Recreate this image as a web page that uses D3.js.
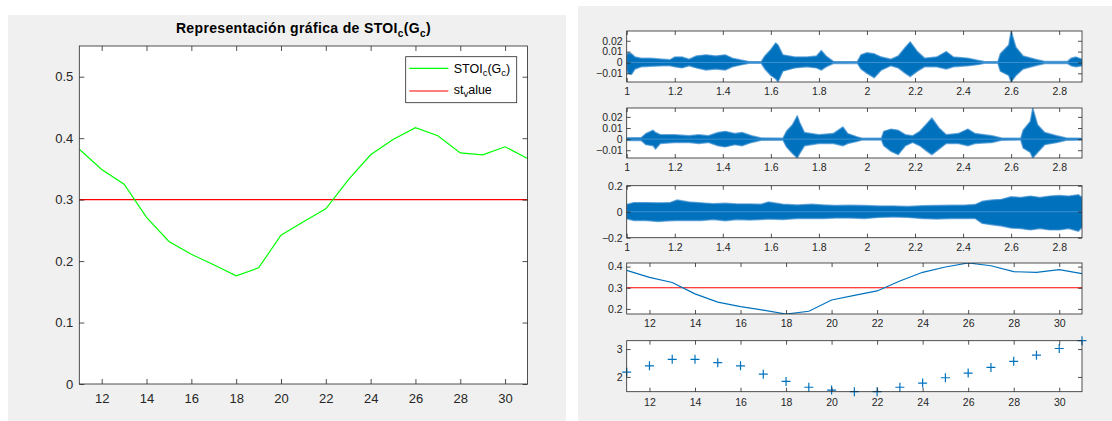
<!DOCTYPE html>
<html>
<head>
<meta charset="utf-8">
<script src="https://cdn.jsdelivr.net/npm/d3@7"></script>
<style>
body{margin:0;background:#fff;}
text{font-family:"Liberation Sans",Arial,Helvetica,sans-serif;}
</style>
</head>
<body>
<div id="chart-section"></div>
<script>

// ---- data ----
var gc = [11,12,13,14,15,16,17,18,19,20,21,22,23,24,25,26,27,28,29,30,31]
var stoi = [0.382,0.349,0.325,0.271,0.232,0.211,0.194,0.176,0.189,0.242,0.264,0.285,0.332,0.373,0.398,0.417,0.404,0.376,0.373,0.386,0.367]
var stValue = 0.3
var gain = [2.17,2.40,2.63,2.63,2.51,2.40,2.10,1.84,1.63,1.53,1.47,1.47,1.63,1.78,1.97,2.14,2.34,2.56,2.78,3.02,3.30]

var gcTicks = [12,14,16,18,20,22,24,26,28,30]
var stoiTicks = [0,0.1,0.2,0.3,0.4,0.5]
var timeTicks = [1,1.2,1.4,1.6,1.8,2,2.2,2.4,2.6,2.8]
var w12Ticks = [-0.01,0,0.01,0.02]
var w3Ticks = [-0.2,0,0.2]
var s4Ticks = [0.2,0.3,0.4]
var s5Ticks = [2,3]

// envelopes of the three waveforms (time, upper, lower)
var w1T  = [1.000,1.005,1.02,1.035,1.06,1.10,1.15,1.18,1.20,1.23,1.26,1.29,1.33,1.37,1.41,1.44,1.48,1.51,1.56,1.575,1.60,1.62,1.63,1.65,1.70,1.75,1.79,1.81,1.83,1.86,1.96,1.975,2.00,2.03,2.06,2.10,2.13,2.16,2.18,2.21,2.24,2.29,2.33,2.36,2.42,2.46,2.49,2.545,2.555,2.59,2.60,2.62,2.65,2.70,2.74,2.835,2.85,2.87,2.895]
var w1Hi = [0.006,0.009,0.008,0.005,0.004,0.004,0.003,0.0025,0.005,0.005,0.003,0.006,0.007,0.006,0.007,0.004,0.002,0.0008,0.0008,0.006,0.012,0.018,0.016,0.007,0.005,0.005,0.006,0.011,0.006,0.001,0.0008,0.007,0.009,0.008,0.005,0.003,0.006,0.014,0.019,0.010,0.004,0.005,0.010,0.005,0.004,0.002,0.0008,0.0008,0.008,0.016,0.029,0.014,0.006,0.003,0.001,0.001,0.004,0.005,0.003]
var w1Lo = [-0.006,-0.010,-0.011,-0.006,-0.004,-0.0035,-0.003,-0.003,-0.004,-0.005,-0.003,-0.005,-0.007,-0.006,-0.007,-0.004,-0.002,-0.0008,-0.0008,-0.006,-0.012,-0.015,-0.018,-0.008,-0.005,-0.004,-0.005,-0.007,-0.004,-0.001,-0.0008,-0.006,-0.010,-0.014,-0.007,-0.003,-0.005,-0.010,-0.013,-0.008,-0.004,-0.004,-0.006,-0.004,-0.003,-0.002,-0.0008,-0.0008,-0.008,-0.012,-0.018,-0.012,-0.006,-0.003,-0.001,-0.001,-0.003,-0.004,-0.003]

var w2T  = [1.000,1.06,1.08,1.11,1.12,1.14,1.20,1.26,1.30,1.34,1.38,1.41,1.45,1.48,1.52,1.56,1.65,1.665,1.69,1.71,1.72,1.74,1.80,1.86,1.90,1.92,1.96,1.98,2.06,2.07,2.10,2.13,2.16,2.19,2.22,2.25,2.27,2.30,2.33,2.38,2.42,2.45,2.52,2.56,2.64,2.65,2.68,2.69,2.71,2.74,2.79,2.83,2.895]
var w2Hi = [0.0012,0.0012,0.005,0.008,0.006,0.004,0.004,0.003,0.004,0.003,0.006,0.007,0.005,0.006,0.003,0.001,0.0008,0.007,0.013,0.021,0.015,0.006,0.004,0.005,0.011,0.005,0.002,0.0008,0.0008,0.007,0.009,0.008,0.004,0.003,0.007,0.014,0.019,0.010,0.004,0.005,0.009,0.005,0.003,0.001,0.0008,0.008,0.016,0.028,0.013,0.006,0.003,0.001,0.0008]
var w2Lo = [-0.0012,-0.0012,-0.005,-0.006,-0.009,-0.004,-0.003,-0.003,-0.004,-0.003,-0.006,-0.007,-0.005,-0.006,-0.003,-0.001,-0.0008,-0.007,-0.013,-0.017,-0.013,-0.006,-0.004,-0.004,-0.006,-0.004,-0.002,-0.0008,-0.0008,-0.006,-0.011,-0.014,-0.006,-0.003,-0.006,-0.011,-0.014,-0.009,-0.004,-0.004,-0.006,-0.004,-0.003,-0.001,-0.0008,-0.008,-0.012,-0.017,-0.012,-0.005,-0.003,-0.001,-0.0008]

var w3T  = [1.00,1.03,1.08,1.13,1.18,1.21,1.26,1.31,1.36,1.41,1.46,1.51,1.56,1.59,1.65,1.71,1.77,1.82,1.87,1.93,1.99,2.05,2.11,2.17,2.23,2.29,2.35,2.40,2.45,2.48,2.52,2.56,2.60,2.64,2.68,2.72,2.76,2.80,2.84,2.88,2.895]
var w3Hi = [0.055,0.07,0.07,0.068,0.07,0.09,0.075,0.068,0.062,0.065,0.06,0.06,0.058,0.075,0.058,0.052,0.058,0.052,0.048,0.05,0.048,0.044,0.044,0.04,0.046,0.048,0.05,0.05,0.055,0.08,0.09,0.095,0.115,0.11,0.12,0.11,0.12,0.125,0.12,0.13,0.11]
var w3Lo = [-0.055,-0.068,-0.068,-0.075,-0.07,-0.068,-0.068,-0.068,-0.06,-0.07,-0.06,-0.064,-0.06,-0.056,-0.06,-0.052,-0.052,-0.052,-0.048,-0.048,-0.052,-0.044,-0.04,-0.044,-0.052,-0.056,-0.052,-0.052,-0.052,-0.09,-0.1,-0.11,-0.125,-0.13,-0.14,-0.13,-0.14,-0.14,-0.13,-0.15,-0.12]

var blue = "#0072BD", axisCol = "#262626"

var svg = d3.select("#chart-section")
        .append("svg")
        .attr("width", 1112)
        .attr("height", 421)

// two figure windows
svg.append("rect").attr("x", 8).attr("y", 15).attr("width", 558).attr("height", 406).attr("fill", "#f0f0f0")
svg.append("rect").attr("x", 578).attr("y", 6).attr("width", 534).attr("height", 415).attr("fill", "#f0f0f0")

// matlab style box axes, ticks inside on all 4 sides
function matAxes(box, xs, ys, xt, yt, o, draw) {
  var g = svg.append("g").attr("transform", "translate(" + box.x + "," + box.y + ")")
  g.append("rect").attr("width", box.w).attr("height", box.h).attr("fill", "#fff")
  var id = "clip" + Math.round(box.x) + "_" + Math.round(box.y)
  g.append("clipPath").attr("id", id).append("rect").attr("width", box.w).attr("height", box.h)
  var data = g.append("g")
  if (o.clip) data.attr("clip-path", "url(#" + id + ")")
  draw(data)
  g.append("g").attr("transform", "translate(0," + box.h + ")")
    .call(d3.axisBottom(xs).tickValues(xt).tickSizeInner(-o.tick).tickSizeOuter(0).tickPadding(o.padX).tickFormat(d3.format("")))
  g.append("g")
    .call(d3.axisTop(xs).tickValues(xt).tickSizeInner(-o.tick).tickSizeOuter(0).tickFormat(""))
  g.append("g")
    .call(d3.axisLeft(ys).tickValues(yt).tickSizeInner(-o.tick).tickSizeOuter(0).tickPadding(o.padY).tickFormat(d3.format("")))
  g.append("g").attr("transform", "translate(" + box.w + ",0)")
    .call(d3.axisRight(ys).tickValues(yt).tickSizeInner(-o.tick).tickSizeOuter(0).tickFormat(""))
  g.selectAll(".domain").remove()
  g.selectAll(".tick line").attr("stroke", axisCol).attr("stroke-width", 0.8)
  g.selectAll(".tick text").attr("fill", axisCol).style("font-size", o.fs + "px")
  g.append("rect").attr("width", box.w).attr("height", box.h)
    .attr("fill", "none").attr("stroke", axisCol).attr("stroke-width", 0.8)
  return g
}

// ---------- left figure ----------
var L = {x: 79.3, y: 46, w: 448.2, h: 338}
var lx = d3.scaleLinear().domain([11, 31]).range([0, L.w])
var ly = d3.scaleLinear().domain([0, 0.55]).range([L.h, 0])

matAxes(L, lx, ly, gcTicks, stoiTicks, {tick: 5, padX: 10, padY: 6, fs: 13, clip: true}, function(g) {
  g.append("line")
    .attr("x1", lx(11)).attr("x2", lx(31))
    .attr("y1", ly(stValue)).attr("y2", ly(stValue))
    .attr("stroke", "#ff0000").attr("stroke-width", 1.2)
  g.append("path")
    .datum(gc.map((d, i) => [d, stoi[i]]))
    .attr("d", d3.line().x(d => lx(d[0])).y(d => ly(d[1])))
    .attr("fill", "none").attr("stroke", "#00ff00").attr("stroke-width", 1.2)
})

// title with subscripts
var title = svg.append("text")
  .attr("x", L.x + L.w / 2).attr("y", 33)
  .attr("text-anchor", "middle")
  .style("font-size", "14px").style("font-weight", "bold").style("letter-spacing", "0.35px").attr("fill", "#000")
title.append("tspan").text("Representación gráfica de STOI")
title.append("tspan").attr("dy", 4).style("font-size", "10px").text("c")
title.append("tspan").attr("dy", -4).text("(G")
title.append("tspan").attr("dy", 4).style("font-size", "10px").text("c")
title.append("tspan").attr("dy", -4).text(")")

// legend
var leg = svg.append("g").attr("transform", "translate(405.7,56.7)")
leg.append("rect").attr("width", 111).attr("height", 46).attr("fill", "#fff")
  .attr("stroke", axisCol).attr("stroke-width", 0.8)
var legItems = [{c: "#00ff00", y: 11.6}, {c: "#ff0000", y: 34.3}]
leg.selectAll("line").data(legItems).enter().append("line")
  .attr("x1", 3.6).attr("x2", 42.6).attr("y1", d => d.y).attr("y2", d => d.y)
  .attr("stroke", d => d.c).attr("stroke-width", 1.2)
var t1 = leg.append("text").attr("x", 48).attr("y", 16).style("font-size", "12.5px").attr("fill", "#000")
t1.append("tspan").text("STOI")
t1.append("tspan").attr("dy", 3.5).style("font-size", "9.5px").text("c")
t1.append("tspan").attr("dy", -3.5).text("(G")
t1.append("tspan").attr("dy", 3.5).style("font-size", "9.5px").text("c")
t1.append("tspan").attr("dy", -3.5).text(")")
var t2 = leg.append("text").attr("x", 48).attr("y", 37).style("font-size", "12.5px").attr("fill", "#000")
t2.append("tspan").text("st")
t2.append("tspan").attr("dy", 3.5).style("font-size", "9.5px").text("v")
t2.append("tspan").attr("dy", -3.5).text("alue")

// ---------- right figure ----------
var RX = 626.7, RW = 455.3
var tx = d3.scaleLinear().domain([1, 2.895]).range([0, RW])
var gx = d3.scaleLinear().domain([11, 31]).range([0, RW])
var small = {tick: 4, padX: 6, padY: 4, fs: 10.5, clip: true}

function wave(box, T, hi, lo, dom, ticks) {
  var ys = d3.scaleLinear().domain(dom).range([box.h, 0])
  matAxes(box, tx, ys, timeTicks, ticks, small, function(g) {
    g.append("path")
      .datum(T.map((t, i) => [t, hi[i], lo[i]]))
      .attr("d", d3.area().x(d => tx(d[0])).y0(d => ys(d[2])).y1(d => ys(d[1])))
      .attr("fill", blue).attr("stroke", "#3d8fd0").attr("stroke-width", 1.4).attr("stroke-opacity", 0.7)
      .attr("stroke-linejoin", "round")
    g.append("line").attr("x1", 0).attr("x2", RW).attr("y1", ys(0)).attr("y2", ys(0))
      .attr("stroke", "#3d8fd0").attr("stroke-width", 1)
  })
}

wave({x: RX, y: 31, w: RW, h: 51}, w1T, w1Hi, w1Lo, [d3.min(w1Lo), d3.max(w1Hi)], w12Ticks)
wave({x: RX, y: 108, w: RW, h: 50}, w2T, w2Hi, w2Lo, [d3.min(w2Lo), d3.max(w2Hi)], w12Ticks)
wave({x: RX, y: 185.7, w: RW, h: 52}, w3T, w3Hi, w3Lo, [-0.2, 0.2], w3Ticks)

// subplot 4: stoi with threshold
var B4 = {x: RX, y: 263, w: RW, h: 51}
var y4 = d3.scaleLinear().domain(d3.extent(stoi)).range([B4.h, 0])
matAxes(B4, gx, y4, gcTicks, s4Ticks, small, function(g) {
  g.append("line").attr("x1", 0).attr("x2", RW).attr("y1", y4(stValue)).attr("y2", y4(stValue))
    .attr("stroke", "#ff0000").attr("stroke-width", 1.2)
  g.append("path")
    .datum(gc.map((d, i) => [d, stoi[i]]))
    .attr("d", d3.line().x(d => gx(d[0])).y(d => y4(d[1])))
    .attr("fill", "none").attr("stroke", blue).attr("stroke-width", 1.2)
})

// subplot 5: plus markers
var B5 = {x: RX, y: 340.7, w: RW, h: 51}
var y5 = d3.scaleLinear().domain(d3.extent(gain)).range([B5.h, 0])
matAxes(B5, gx, y5, gcTicks, s5Ticks, {tick: 4, padX: 7, padY: 4, fs: 10.5, clip: false}, function(g) {
  g.selectAll("path.plus")
    .data(gc.map((d, i) => [d, gain[i]]))
    .enter().append("path")
    .attr("class", "plus")
    .attr("transform", d => "translate(" + gx(d[0]) + "," + y5(d[1]) + ")")
    .attr("d", "M-4.5,0H4.5M0,-4.5V4.5")
    .attr("stroke", blue).attr("stroke-width", 1.2).attr("fill", "none")
})

</script>
</body>
</html>
